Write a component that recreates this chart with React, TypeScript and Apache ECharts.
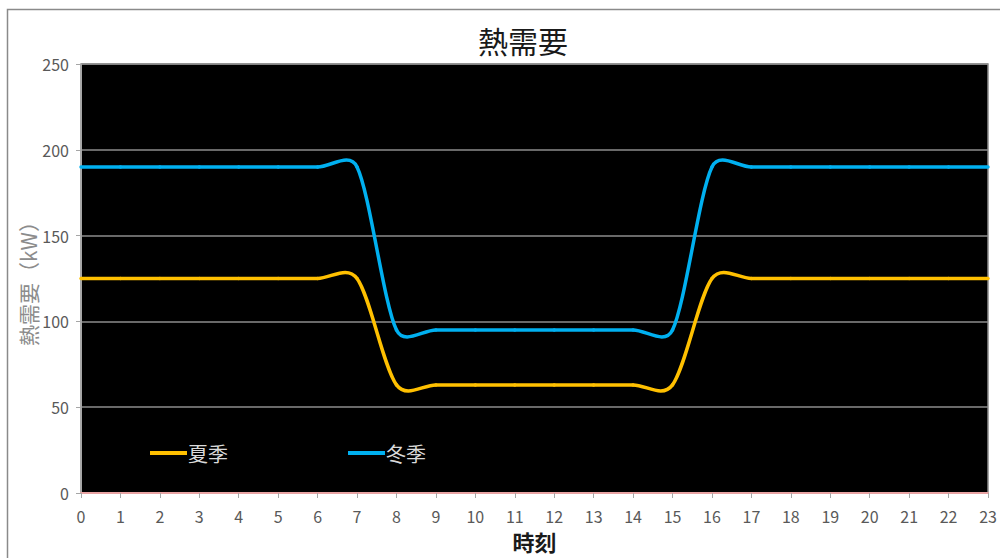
import React, { useEffect, useRef } from "react";
import * as echarts from "echarts";

const hours = ["0","1","2","3","4","5","6","7","8","9","10","11","12","13","14","15","16","17","18","19","20","21","22","23"];
const summer = [125,125,125,125,125,125,125,125,63,63,63,63,63,63,63,63,125,125,125,125,125,125,125,125];
const winter = [190,190,190,190,190,190,190,190,95,95,95,95,95,95,95,95,190,190,190,190,190,190,190,190];
const seriesNames = ["夏季", "冬季"];
const seriesColors = ["#FFC000", "#00B0F0"];
const yTicks = { min: 0, max: 250, interval: 50 };

const SMOOTH = 0.5;

function makeRenderItem(values: number[], color: string) {
  return (params: any, api: any) => {
    const i = params.dataIndex;
    const n = values.length;
    if (i >= n - 1) return { type: "group", children: [] };
    const P = (k: number) => {
      const kk = Math.max(0, Math.min(n - 1, k));
      return api.coord([kk, values[kk]]) as number[];
    };
    const p0 = P(i - 1), p1 = P(i), p2 = P(i + 1), p3 = P(i + 2);
    const dist = (a: number[], b: number[]) => Math.hypot(a[0] - b[0], a[1] - b[1]);
    const limit = (dx: number, dy: number, maxX: number) => {
      const ax = Math.abs(dx);
      if (ax > maxX && ax > 0) {
        const s = maxX / ax;
        return [dx * s, dy * s];
      }
      return [dx, dy];
    };
    const segW = Math.abs(p2[0] - p1[0]);
    let c1: number[];
    {
      const lp = dist(p0, p1), ln = dist(p1, p2);
      const r = lp + ln > 0 ? ln / (lp + ln) : 0.5;
      const vx = p2[0] - p0[0], vy = p2[1] - p0[1];
      const d = limit(vx * SMOOTH * r, vy * SMOOTH * r, segW / 3);
      c1 = [p1[0] + d[0], p1[1] + d[1]];
    }
    let c2: number[];
    {
      const lp = dist(p1, p2), ln = dist(p2, p3);
      const r = lp + ln > 0 ? ln / (lp + ln) : 0.5;
      const vx = p3[0] - p1[0], vy = p3[1] - p1[1];
      const d = limit(vx * SMOOTH * (1 - r), vy * SMOOTH * (1 - r), segW / 3);
      c2 = [p2[0] - d[0], p2[1] - d[1]];
    }
    return {
      type: "bezierCurve",
      shape: {
        x1: p1[0], y1: p1[1],
        x2: p2[0], y2: p2[1],
        cpx1: c1[0], cpy1: c1[1],
        cpx2: c2[0], cpy2: c2[1],
      },
      style: { stroke: color, lineWidth: 3.5, fill: "none", lineCap: "round" },
    };
  };
}

export default function App() {
  const ref = useRef<HTMLDivElement>(null);
  useEffect(() => {
    if (!ref.current) return;
    const chart = echarts.init(ref.current, null, { renderer: "svg" });
    const font = "'Noto Sans CJK JP', 'Noto Sans', sans-serif";
    chart.setOption({
      animation: false,
      textStyle: { fontFamily: font },
      title: {
        text: "熱需要",
        left: 518,
        textAlign: "center",
        top: 20,
        textStyle: { fontSize: 30, fontWeight: "normal", color: "#1a1a1a", fontFamily: font },
      },
      graphic: [
        {
          type: "rect",
          shape: { x: 7.5, y: 9.5, width: 1100, height: 700 },
          style: { fill: "none", stroke: "#8a8a8a", lineWidth: 1.5 },
          silent: true,
          z: -1,
        },
      ],
      legend: {
        left: 145,
        top: 438,
        itemWidth: 37,
        itemHeight: 4,
        itemGap: 120,
        icon: "rect",
        data: seriesNames,
        textStyle: { color: "#d9d9d9", fontSize: 20, fontFamily: font, padding: [0, 0, 0, -4] },
      },
      grid: {
        left: 81,
        top: 64,
        width: 907,
        height: 429,
        show: true,
        backgroundColor: "#000000",
        borderColor: "#8c8c8c",
        borderWidth: 1.5,
      },
      xAxis: {
        type: "category",
        data: hours,
        boundaryGap: false,
        name: "時刻",
        nameLocation: "middle",
        nameGap: 37,
        nameTextStyle: { fontSize: 22, fontWeight: "bold", color: "#1a1a1a", fontFamily: font },
        axisLine: { lineStyle: { color: "#e8a3a3", width: 2 } },
        axisTick: { show: true, length: 5, alignWithLabel: true, lineStyle: { color: "#a6a6a6" } },
        axisLabel: { color: "#595959", fontSize: 16, margin: 15, interval: 0 },
        splitLine: { show: false },
      },
      yAxis: {
        type: "value",
        min: yTicks.min,
        max: yTicks.max,
        interval: yTicks.interval,
        name: "熱需要（kW）",
        nameLocation: "middle",
        nameRotate: 90,
        nameGap: 43,
        nameMoveOverlap: false,
        nameTextStyle: { fontSize: 21, color: "#8c8c8c", fontFamily: font },
        axisLine: { show: true, lineStyle: { color: "#a6a6a6", width: 1 } },
        axisTick: { show: true, length: 5, lineStyle: { color: "#a6a6a6" } },
        axisLabel: { color: "#595959", fontSize: 16, margin: 12 },
        splitLine: { show: true, lineStyle: { color: "#8c8c8c", width: 1.5 } },
      },
      series: [
        {
          name: seriesNames[0],
          type: "custom",
          data: summer.map((v, i) => [i, v]),
          encode: { x: 0, y: 1 },
          itemStyle: { color: seriesColors[0] },
          renderItem: makeRenderItem(summer, seriesColors[0]),
        },
        {
          name: seriesNames[1],
          type: "custom",
          data: winter.map((v, i) => [i, v]),
          encode: { x: 0, y: 1 },
          itemStyle: { color: seriesColors[1] },
          renderItem: makeRenderItem(winter, seriesColors[1]),
        },
      ],
    });
    return () => chart.dispose();
  }, []);
  return (
    <div
      ref={ref}
      style={{ position: "absolute", left: 0, top: 0, width: 1000, height: 558, background: "#fff" }}
    />
  );
}
